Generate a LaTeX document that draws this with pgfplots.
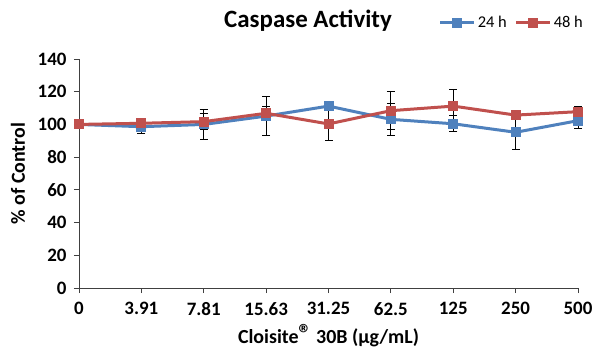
\documentclass[border=0pt]{standalone}
\usepackage{pgfplots}
\pgfplotsset{compat=1.18}
\usepackage{pgfplotstable}
\usepackage{fontspec}
\setmainfont{Carlito}
\usetikzlibrary{calc}
\definecolor{cblue}{HTML}{4F81BD}
\definecolor{cred}{HTML}{C0504D}
\pgfplotstableread{
x y e
0 100 0
1 98.6 4.1
2 100.0 9.2
3 105.1 12
4 111.2 1
5 103.1 10
6 100.4 4.8
7 95.2 10.8
8 102.3 4.7
}\blue
\pgfplotstableread{
x y e
0 100 0
1 100.7 2
2 101.7 5
3 106.8 4
4 100.3 10
5 108.4 11.6
6 111.2 10
7 105.7 1
8 107.8 3.4
}\red
\begin{document}
\begin{tikzpicture}
\begin{axis}[name=ax, scale only axis, width=499bp, height=229bp,
  xmin=0, xmax=8, ymin=0, ymax=140,
  ytick={0,20,...,140}, xtick={0,...,8},
  xticklabels={0,3.91,7.81,15.63,31.25,62.5,125,250,500},
  axis x line*=bottom, axis y line*=left,
  axis line style={-, black!75, line width=0.8pt},
  tick align=outside, tick style={black!75, line width=0.8pt}, major tick length=5bp,
  ticklabel style={font=\fontsize{19}{19}\selectfont\bfseries},
  xticklabel style={yshift=-6bp},
  yticklabel style={xshift=-4bp},
  /pgf/number format/assume math mode=true,
  xlabel={Cloisite{\raisebox{0.05em}{\fontsize{26}{26}\selectfont ®}} 30B (µg/mL)},
  ylabel={\% of Control},
  label style={font=\fontsize{20}{20}\selectfont\bfseries},
  xlabel style={at={(0.5,0)}, anchor=center, yshift=-48bp},
  ylabel style={at={(0,0.5)}, anchor=center, yshift=61bp},
  title={Caspase Activity},
  title style={font=\fontsize{25}{25}\selectfont\bfseries, at={(0.459,1)}, anchor=center, yshift=32bp},
  legend style={at={(1,1)}, anchor=east, xshift=10bp, yshift=36bp, draw=none, fill=none,
    legend columns=2, font=\fontsize{16.5}{16.5}\selectfont,
    /tikz/every even column/.append style={column sep=6bp}},
  legend image code/.code={\draw[mark repeat=2, mark phase=2] plot coordinates {(0bp,0bp)(17bp,0bp)(34bp,0bp)};},
  clip=false,
  every axis plot/.append style={line width=3bp},
  error bars/y dir=both, error bars/y explicit,
  error bars/error bar style={black, line width=0.9pt},
  error bars/error mark options={rotate=90, mark size=4bp, black, line width=0.9pt},
]
\addplot[cblue, mark=square*, mark size=4.5bp, mark options={solid, line width=0pt}] table[x=x, y=y, y error=e] {\blue};
\addlegendentry{24 h}
\addplot[cred, mark=square*, mark size=4.5bp, mark options={solid, line width=0pt}] table[x=x, y=y, y error=e] {\red};
\addlegendentry{48 h}
\end{axis}
\pgfresetboundingbox
\path ($(ax.south west)+(-79bp,-60bp)$) rectangle ($(ax.north east)+(17bp,59bp)$);
\end{tikzpicture}
\end{document}
